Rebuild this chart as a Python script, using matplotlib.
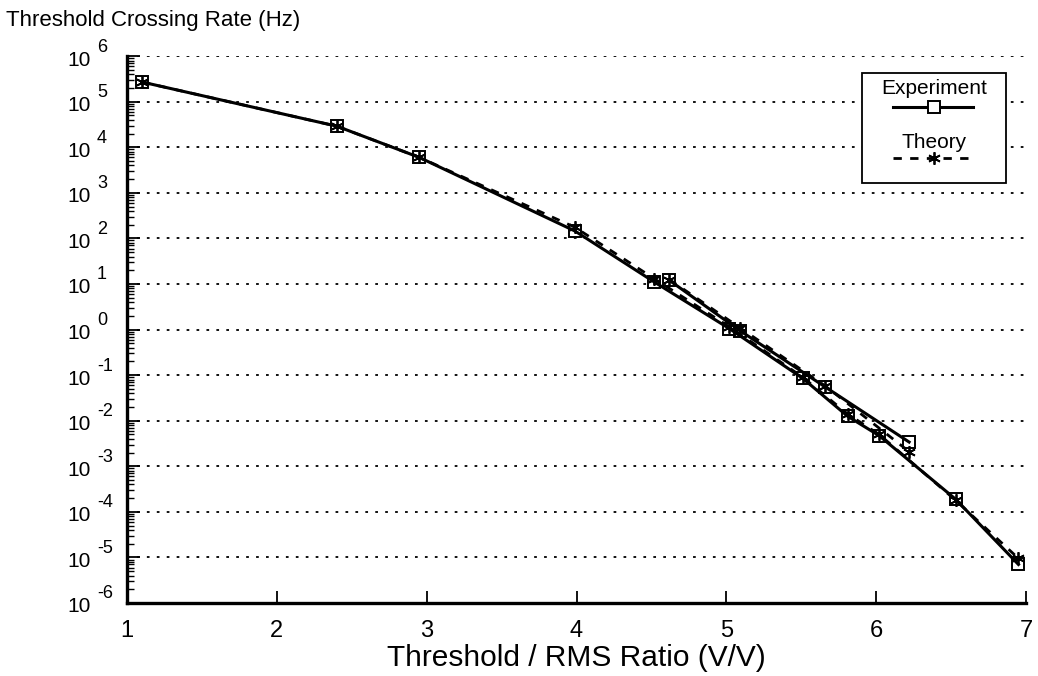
import numpy as np
import matplotlib
matplotlib.use("Agg")
import matplotlib.pyplot as plt
from matplotlib import transforms
from matplotlib.lines import Line2D
from matplotlib.patches import Rectangle

plt.rcParams['font.family'] = ['Liberation Sans', 'DejaVu Sans']

# run 1: threshold/rms ratio and crossing rates (Hz)
x_run1 = [1.10, 2.40, 2.95, 3.99, 4.52, 5.02, 5.51, 5.81, 6.02, 6.53, 6.95]
exp_run1 = [2.7e5, 2.9e4, 6.0e3, 1.45e2, 11.0, 1.05, 0.085, 0.0125, 0.0047, 1.9e-4, 7.0e-6]
theory_run1 = [2.7e5, 2.9e4, 6.0e3, 1.75e2, 13.0, 1.15, 0.09, 0.014, 0.0050, 1.8e-4, 9.5e-6]

# run 2: second sweep over the upper thresholds
x_run2 = [4.62, 5.09, 5.66, 6.22]
exp_run2 = [12.0, 0.95, 0.055, 0.0034]
theory_run2 = [12.5, 1.1, 0.058, 0.0021]

decades = list(range(-6, 7))
x_ticks = [1, 2, 3, 4, 5, 6, 7]

fig = plt.figure(figsize=(10.38, 6.76), dpi=100)
ax = fig.add_axes([0.1224, 0.108, 0.866, 0.809])

exp_style = dict(color='black', lw=2.2, ls='-', marker='s', ms=8,
                 mfc='none', mec='black', mew=1.4)
th_style = dict(color='black', lw=2.0, ls=(0, (3, 3)), marker=(6, 2, 0),
                ms=9, mec='black', mew=1.3)

ax.plot(x_run1, exp_run1, **exp_style, zorder=3)
ax.plot(x_run2, exp_run2, **exp_style, zorder=3)
ax.plot(x_run1, theory_run1, **th_style, zorder=4)
ax.plot(x_run2, theory_run2, **th_style, zorder=4)

ax.set_yscale('log')
ax.set_xlim(1, 7)
ax.set_ylim(1e-6, 1e6)

# dotted decade lines
for k in decades[1:]:
    ax.axhline(10.0 ** k, color='black', lw=1.3, ls=(0, (1.5, 4)), zorder=1)

for side in ('top', 'right'):
    ax.spines[side].set_visible(False)
for side in ('left', 'bottom'):
    ax.spines[side].set_linewidth(2.4)

ax.set_xticks(x_ticks)
ax.set_xticklabels([str(t) for t in x_ticks], fontsize=17)
ax.tick_params(axis='x', direction='in', length=9, width=1.3, pad=12)

ax.set_yticks([10.0 ** k for k in decades])
ax.set_yticklabels([''] * len(decades))
ax.yaxis.set_minor_locator(matplotlib.ticker.LogLocator(base=10, subs=np.arange(2, 10), numticks=30))
ax.yaxis.set_minor_formatter(matplotlib.ticker.NullFormatter())
ax.tick_params(axis='y', which='major', direction='in', length=9, width=1.3)
ax.tick_params(axis='y', which='minor', direction='in', length=5, width=1.0)

# "10" with a detached exponent on each decade
trans = transforms.blended_transform_factory(ax.transAxes, ax.transData)
for k in decades:
    ax.annotate('10', xy=(0, 10.0 ** k), xycoords=trans, xytext=(-36, -4),
                textcoords='offset pixels', ha='right', va='center', fontsize=15)
    ax.annotate(str(k), xy=(0, 10.0 ** k), xycoords=trans, xytext=(-30, 9),
                textcoords='offset pixels', ha='left', va='center', fontsize=13)

ax.set_xlabel('Threshold / RMS Ratio (V/V)', fontsize=21.5, labelpad=2)
fig.text(0.006, 0.985, 'Threshold Crossing Rate (Hz)', fontsize=16, ha='left', va='top')

# legend box with labels stacked above their line samples
cx = 0.8977
ax.add_patch(Rectangle((0.8176, 0.768), 0.160, 0.201, transform=ax.transAxes,
                       fc='white', lw=1.3, ec='black', zorder=5, clip_on=False))
ax.text(cx, 0.9415, 'Experiment', transform=ax.transAxes, ha='center', va='center',
        fontsize=15, zorder=6)
ax.add_line(Line2D([0.852, 0.941], [0.9068, 0.9068], transform=ax.transAxes,
                   color='black', lw=2.2, zorder=6))
ax.add_line(Line2D([cx], [0.9068], transform=ax.transAxes, marker='s', ms=8,
                   mfc='white', mec='black', mew=1.4, ls='none', zorder=7))
ax.text(cx, 0.8428, 'Theory', transform=ax.transAxes, ha='center', va='center',
        fontsize=15, zorder=6)
ax.add_line(Line2D([0.852, 0.941], [0.8135, 0.8135], transform=ax.transAxes,
                   color='black', lw=2.0, ls=(0, (3, 3)), zorder=6))
ax.add_line(Line2D([cx], [0.8135], transform=ax.transAxes, marker=(6, 2, 0), ms=9,
                   mec='black', mew=1.3, ls='none', zorder=7))

fig.savefig('out.png', dpi=100)
